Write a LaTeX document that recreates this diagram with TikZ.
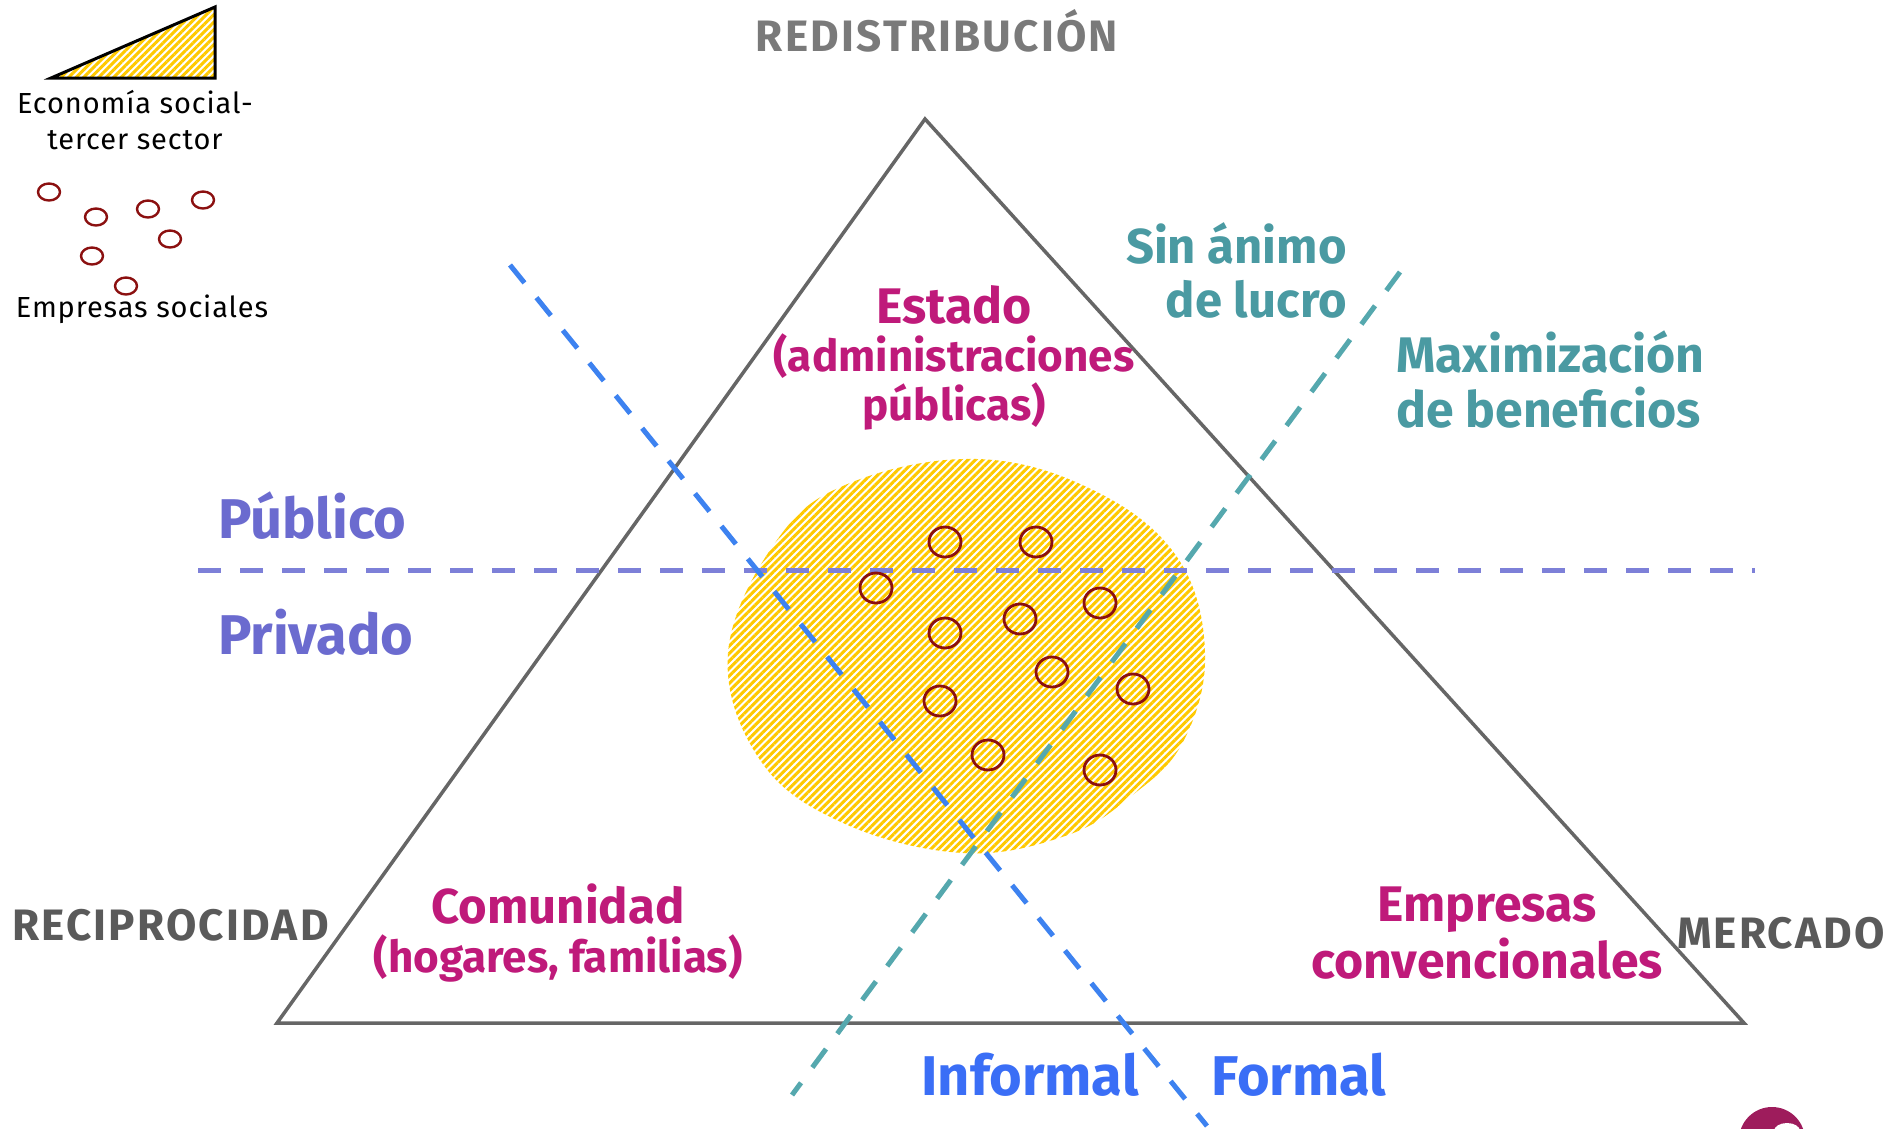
\documentclass[tikz,border=0pt]{standalone}
\usepackage{fontspec}
\setmainfont{Fira Sans}
\usetikzlibrary{patterns.meta,positioning}

\definecolor{sectorpink}{HTML}{BF1A7A}
\definecolor{publicblue}{HTML}{6B6BCF}
\definecolor{publicline}{HTML}{7D80D8}
\definecolor{formalblue}{HTML}{3A6EF6}
\definecolor{formalline}{HTML}{3D82F0}
\definecolor{lucroteal}{HTML}{4A9AA2}
\definecolor{lucroline}{HTML}{55A8AE}
\definecolor{axisgrey}{HTML}{5A5A5A}
\definecolor{topgrey}{HTML}{7A7A7A}
\definecolor{edgegrey}{HTML}{666666}
\definecolor{hatchgold}{HTML}{FFC900}
\definecolor{firmred}{HTML}{8B1010}
\definecolor{logopurple}{HTML}{9E1C5C}

\begin{document}
\begin{tikzpicture}[x=1pt, y=-1pt,
    axis/.style={inner sep=0pt, font=\bfseries\fontsize{44}{44}\selectfont\addfontfeatures{LetterSpace=5}},
    sector/.style={inner sep=0pt, align=center, text=sectorpink},
    divide/.style={inner sep=0pt, font=\bfseries\fontsize{56}{56}\selectfont},
    legend/.style={inner sep=0pt, align=center, font=\fontsize{29}{36}\selectfont\addfontfeatures{LetterSpace=3}},
    hatch/.style={pattern={Lines[angle=45,distance=5.3pt,line width=3pt]}, pattern color=hatchgold},
    cut/.style={line width=5pt, dash pattern=on 23pt off 19pt},
    firm/.style={draw=firmred, line width=2.8pt}
]
\useasboundingbox (0,0) rectangle (1903,1128);

% Legend
\draw[hatch, line width=3pt] (51,78) -- (215,78) -- (215,7) -- cycle;
\node[legend] (econ) at (135,120) {Economía social-\\tercer sector};
\foreach \p in {(49,192),(96,217),(148,209),(203,200),(170,239),(92,256),(126,286)}
    \draw[firm, line width=2.4pt] \p ellipse [x radius=11, y radius=8.5];
\node[legend] (emps) at (142,309) {Empresas sociales};

% Social economy area
\path[hatch] plot[smooth cycle, tension=0.65] coordinates {
    (977,459) (1093,490) (1177,557) (1205,653) (1183,742) (1130,797)
    (1065,836) (963,853) (843,823) (760,760) (728,653) (777,540) (850,483)};

% Triangle
\coordinate (top) at (925,119);
\coordinate (left) at (277,1023);
\coordinate (right) at (1744,1023);
\draw[edgegrey, line width=3.5pt, line join=miter] (top) -- (right) -- (left) -- cycle;

% Dividing lines
\coordinate (pub1) at (198,570);
\coordinate (pub2) at (1755,570);
\coordinate (for1) at (510,265);
\coordinate (for2) at (1207,1126);
\coordinate (luc1) at (1400,272);
\coordinate (luc2) at (792,1095);
\draw[cut, publicline] (pub1) -- (pub2);
\draw[cut, formalline] (for1) -- (for2);
\draw[cut, lucroline] (luc1) -- (luc2);

% Social enterprises
\foreach \p in {(945,542),(1036,542),(876,588),(1100,603),(945,633),(1020,619),
                (1052,672),(1133,689),(940,701),(988,755),(1100,770)}
    \draw[firm] \p ellipse [x radius=16, y radius=15];

% Poles
\node[axis, text=topgrey] (redis) at (937,31) {REDISTRIBUCIÓN};
\node[axis, text=axisgrey, anchor=west] (recip) at (12,925) {RECIPROCIDAD};
\node[axis, text=axisgrey, anchor=east] (merc) at (1885,933) {MERCADO};

% Sectors
\node[sector, font=\bfseries\fontsize{50}{50}\selectfont] (estado) at (954,305) {Estado};
\node[sector, font=\bfseries\fontsize{44}{49}\selectfont] (estadosub) at (954,382) {(administraciones\\públicas)};
\node[sector, font=\bfseries\fontsize{49}{49}\selectfont] (comun) at (558,904) {Comunidad};
\node[sector, font=\bfseries\fontsize{44}{44}\selectfont] (comunsub) at (558,958) {(hogares, familias)};
\node[sector, font=\bfseries\fontsize{50}{57}\selectfont] (empconv) at (1487,933) {Empresas\\convencionales};

% Divisions
\node[divide, text=publicblue, anchor=west] (publico) at (218,516) {Público};
\node[divide, text=publicblue, anchor=west] (privado) at (218,632) {Privado};
\node[divide, text=formalblue] (informal) at (1030,1075) {Informal};
\node[divide, text=formalblue] (formal) at (1299,1075) {Formal};
\node[inner sep=0pt, align=right, anchor=east, text=lucroteal,
      font=\bfseries\fontsize{49}{54}\selectfont] (sinlucro) at (1347,270) {Sin ánimo\\de lucro};
\node[inner sep=0pt, align=left, anchor=west, text=lucroteal,
      font=\bfseries\fontsize{50}{55}\selectfont] (maxben) at (1396,380) {Maximización\\de beneficios};

% Corner mark
\fill[logopurple] (1772,1140) circle (33);
\fill[white] (1787,1131) ellipse [x radius=13, y radius=8];

\end{tikzpicture}
\end{document}
